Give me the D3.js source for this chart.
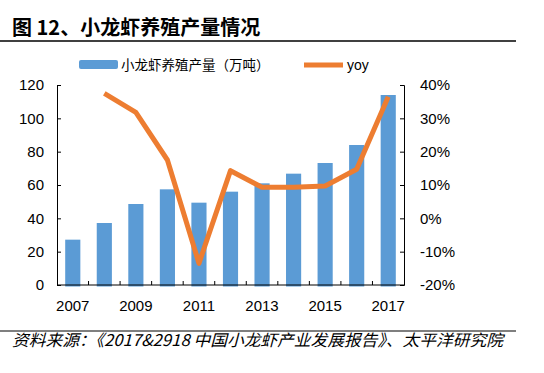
<!DOCTYPE html>
<html>
<head>
<meta charset="utf-8">
<script src="https://cdn.jsdelivr.net/npm/d3@7"></script>
<style>
  body { margin: 0; background: #fff; }
  svg { display: block; }
</style>
</head>
<body>
<div class="canvas"></div>
<script>
const years = ["2007", "2008", "2009", "2010", "2011", "2012", "2013", "2014", "2015", "2016", "2017"];
const output = [27.2, 37.2, 48.6, 57.4, 49.4, 56.0, 61.0, 66.8, 73.2, 84.0, 114.0];
const yoy = [null, 37.5, 31.8, 17.5, -13.5, 14.3, 9.3, 9.3, 9.7, 14.7, 36.5];
const leftTicks = [0, 20, 40, 60, 80, 100, 120];
const rightTicks = [-20, -10, 0, 10, 20, 30, 40];
const xLabels = ["2007", "2009", "2011", "2013", "2015", "2017"];

const width = 544;
const height = 373;
const marginTop = 85;
const marginBottom = 88;
const marginLeft = 57;
const marginRight = 140;
const barColor = "#5b9bd5";
const lineColor = "#ed7d31";
const axisFont = "'Liberation Sans', Arial, sans-serif";
const cjkFont = "'Noto Sans CJK SC', sans-serif";

const x = d3.scaleBand()
  .domain(years)
  .range([marginLeft, width - marginRight])
  .paddingInner(0.52)
  .paddingOuter(0.26);

const y = d3.scaleLinear()
  .domain([0, 120])
  .range([height - marginBottom, marginTop]);

const y2 = d3.scaleLinear()
  .domain([-20, 40])
  .range([height - marginBottom, marginTop]);

const svg = d3.select(".canvas").append("svg")
  .attr("width", width)
  .attr("height", height);

// title
svg.append("text")
  .attr("x", 12)
  .attr("y", 35)
  .attr("font-family", cjkFont)
  .attr("font-weight", "bold")
  .attr("font-size", 20)
  .attr("fill", "#000")
  .text("图 12、小龙虾养殖产量情况");

svg.append("line")
  .attr("x1", 0).attr("x2", 516)
  .attr("y1", 41).attr("y2", 41)
  .attr("stroke", "#000").attr("stroke-width", 1.5);

// legend
svg.append("rect")
  .attr("x", 79).attr("y", 60)
  .attr("width", 39).attr("height", 9)
  .attr("rx", 2)
  .attr("fill", barColor);
svg.append("text")
  .attr("x", 121).attr("y", 70)
  .attr("font-family", cjkFont)
  .attr("font-size", 13.5)
  .attr("fill", "#000")
  .text("小龙虾养殖产量（万吨）");
svg.append("line")
  .attr("x1", 304).attr("x2", 343)
  .attr("y1", 65).attr("y2", 65)
  .attr("stroke", lineColor).attr("stroke-width", 5);
svg.append("text")
  .attr("x", 347).attr("y", 70)
  .attr("font-family", axisFont)
  .attr("font-size", 14)
  .attr("fill", "#000")
  .text("yoy");

// bars
svg.append("g")
  .selectAll("rect")
  .data(years)
  .join("rect")
    .attr("x", (d) => x(d))
    .attr("y", (d, i) => y(output[i]))
    .attr("width", x.bandwidth())
    .attr("height", (d, i) => y(0) - y(output[i]) + 1.5)
    .attr("fill", barColor);

// yoy line
const pts = years.map((d, i) => [x(d) + x.bandwidth() / 2, yoy[i]]).filter((p) => p[1] !== null);
svg.append("path")
  .datum(pts)
  .attr("fill", "none")
  .attr("stroke", lineColor)
  .attr("stroke-width", 5)
  .attr("stroke-linejoin", "round")
  .attr("d", d3.line().x((p) => p[0]).y((p) => y2(p[1])));

// axes
const gy = svg.append("g")
  .attr("transform", translate(marginLeft, 0))
  .call(d3.axisRight(y).tickValues(leftTicks).tickSize(4).tickSizeOuter(4).tickFormat(""));
gy.selectAll("text").remove();

svg.append("g")
  .selectAll("text")
  .data(leftTicks)
  .join("text")
    .attr("x", 44)
    .attr("y", (d) => y(d))
    .attr("dy", "0.36em")
    .attr("text-anchor", "end")
    .attr("font-family", axisFont)
    .attr("font-size", 15)
    .attr("fill", "#000")
    .text((d) => d);

svg.append("g")
  .attr("transform", translate(width - marginRight, 0))
  .call(d3.axisLeft(y2).tickValues(rightTicks).tickSize(4).tickSizeOuter(4).tickFormat(""));

svg.append("g")
  .selectAll("text")
  .data(rightTicks)
  .join("text")
    .attr("x", 420)
    .attr("y", (d) => y2(d))
    .attr("dy", "0.36em")
    .attr("font-family", axisFont)
    .attr("font-size", 15)
    .attr("fill", "#000")
    .text((d) => d + "%");

// x axis: baseline with ticks between categories
const step = x.step();
const boundaries = d3.range(1, years.length).map((i) => x(years[i]) - step * x.paddingInner() / 2);
const gx = svg.append("g");
gx.append("line")
  .attr("x1", marginLeft).attr("x2", width - marginRight)
  .attr("y1", y(0)).attr("y2", y(0))
  .attr("stroke", "#000");
gx.selectAll(".tick")
  .data(boundaries)
  .join("line")
    .attr("class", "tick")
    .attr("x1", (d) => d).attr("x2", (d) => d)
    .attr("y1", y(0)).attr("y2", y(0) - 4)
    .attr("stroke", "#000");

svg.append("g")
  .selectAll("text")
  .data(xLabels)
  .join("text")
    .attr("x", (d) => x(d) + x.bandwidth() / 2)
    .attr("y", 311)
    .attr("text-anchor", "middle")
    .attr("font-family", axisFont)
    .attr("font-size", 15)
    .attr("fill", "#000")
    .text((d) => d);

svg.selectAll(".domain").attr("stroke", "#000");
svg.selectAll(".tick line").attr("stroke", "#000");

// source
svg.append("line")
  .attr("x1", 0).attr("x2", 516)
  .attr("y1", 331).attr("y2", 331)
  .attr("stroke", "#000").attr("stroke-width", 1.2);

svg.append("text")
  .attr("x", 12)
  .attr("y", 346)
  .attr("font-family", cjkFont)
  .attr("font-style", "italic")
  .attr("font-size", 16)
  .attr("textLength", 491)
  .attr("lengthAdjust", "spacingAndGlyphs")
  .attr("fill", "#000")
  .text("资料来源：《2017&2918 中国小龙虾产业发展报告》、太平洋研究院");

function translate(x, y) {
  return "translate(" + x + ", " + y + ")";
}
</script>
</body>
</html>
